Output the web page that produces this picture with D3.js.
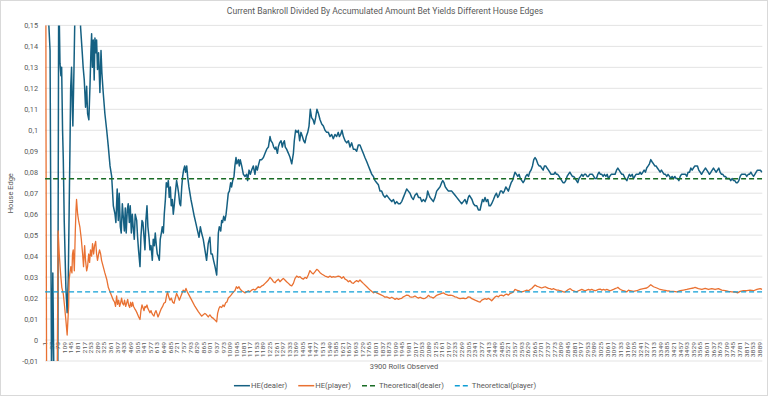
<!DOCTYPE html>
<html>
<head>
<meta charset="utf-8">
<title>House Edges</title>
<style>
  body { margin: 0; background: #fff; }
  svg { display: block; font-family: "Liberation Sans Narrow", "Roboto", sans-serif; }
</style>
</head>
<body>
<div id="chart"></div>
<script src="https://cdn.jsdelivr.net/npm/d3@7"></script>
<script>
// [roll, house edge]
const dealerHE = [[1,0.5],[16,0.16],[28,0.138],[36,-0.02],[43,0.032],[49,-0.02],[60,-0.04],[70,-0.02],[75,0.17],[82,0.132],[87,0.126],[91,0.130],[96,0.100],[100,0.086],[105,0.057],[114,0.025],[121,0.013],[127,0.029],[132,0.063],[136,0.090],[140,0.120],[145,0.130],[149,0.111],[152,0.102],[158,0.129],[165,0.165],[178,0.18],[190,0.17],[194,0.149],[203,0.137],[208,0.130],[214,0.124],[221,0.111],[227,0.121],[232,0.108],[239,0.105],[245,0.121],[250,0.137],[254,0.146],[258,0.130],[263,0.143],[268,0.124],[272,0.144],[277,0.137],[281,0.143],[286,0.129],[292,0.137],[299,0.118],[305,0.138],[310,0.127],[317,0.118],[326,0.108],[336,0.100],[345,0.092],[354,0.083],[363,0.078],[372,0.064],[381,0.060],[386,0.056],[393,0.072],[399,0.057],[404,0.070],[410,0.054],[415,0.051],[421,0.065],[426,0.059],[432,0.052],[437,0.063],[442,0.051],[448,0.062],[453,0.065],[459,0.056],[464,0.064],[470,0.051],[475,0.060],[480,0.054],[486,0.048],[491,0.060],[499,0.057],[504,0.049],[509,0.043],[517,0.035],[522,0.049],[528,0.057],[533,0.056],[539,0.049],[544,0.043],[549,0.057],[555,0.064],[560,0.054],[566,0.049],[571,0.043],[577,0.045],[584,0.038],[589,0.048],[595,0.045],[600,0.051],[606,0.045],[611,0.041],[616,0.040],[622,0.038],[627,0.048],[633,0.051],[638,0.054],[644,0.051],[649,0.060],[655,0.067],[660,0.075],[665,0.073],[671,0.076],[676,0.068],[682,0.073],[687,0.064],[693,0.067],[698,0.060],[703,0.064],[709,0.070],[716,0.076],[722,0.073],[727,0.070],[733,0.065],[738,0.064],[744,0.073],[749,0.078],[754,0.081],[760,0.083],[765,0.080],[771,0.083],[776,0.078],[783,0.073],[794,0.067],[801,0.064],[812,0.059],[820,0.056],[830,0.052],[838,0.049],[845,0.054],[852,0.051],[861,0.048],[870,0.043],[879,0.038],[888,0.046],[897,0.049],[903,0.041],[910,0.041],[917,0.038],[925,0.035],[934,0.031],[939,0.041],[943,0.051],[948,0.054],[956,0.052],[961,0.057],[966,0.056],[972,0.059],[979,0.057],[985,0.060],[990,0.064],[997,0.070],[1003,0.071],[1010,0.075],[1015,0.073],[1021,0.076],[1028,0.078],[1033,0.083],[1039,0.087],[1044,0.084],[1052,0.086],[1057,0.083],[1062,0.086],[1070,0.083],[1079,0.079],[1088,0.078],[1097,0.079],[1102,0.076],[1110,0.081],[1117,0.079],[1124,0.081],[1133,0.083],[1142,0.079],[1148,0.083],[1155,0.081],[1160,0.083],[1169,0.086],[1178,0.086],[1188,0.087],[1197,0.089],[1206,0.091],[1215,0.092],[1224,0.097],[1229,0.095],[1237,0.094],[1244,0.092],[1251,0.091],[1256,0.092],[1264,0.089],[1269,0.092],[1276,0.094],[1284,0.095],[1291,0.092],[1296,0.094],[1302,0.095],[1307,0.092],[1314,0.091],[1324,0.089],[1333,0.087],[1342,0.084],[1351,0.089],[1356,0.095],[1363,0.100],[1371,0.099],[1378,0.100],[1385,0.095],[1392,0.099],[1400,0.097],[1407,0.095],[1414,0.094],[1421,0.097],[1429,0.099],[1436,0.102],[1443,0.110],[1450,0.106],[1458,0.105],[1465,0.103],[1472,0.106],[1479,0.110],[1487,0.108],[1496,0.105],[1505,0.103],[1514,0.102],[1523,0.100],[1532,0.099],[1541,0.099],[1550,0.097],[1559,0.098],[1568,0.096],[1577,0.098],[1586,0.097],[1595,0.099],[1601,0.097],[1608,0.098],[1615,0.100],[1623,0.097],[1632,0.095],[1641,0.094],[1650,0.095],[1659,0.092],[1668,0.094],[1677,0.091],[1686,0.091],[1695,0.090],[1704,0.093],[1713,0.093],[1722,0.091],[1731,0.089],[1740,0.087],[1750,0.085],[1759,0.083],[1768,0.081],[1777,0.079],[1786,0.078],[1795,0.076],[1804,0.075],[1813,0.074],[1822,0.071],[1831,0.071],[1840,0.069],[1849,0.068],[1858,0.069],[1867,0.068],[1876,0.067],[1886,0.066],[1895,0.067],[1904,0.065],[1913,0.066],[1922,0.065],[1931,0.065],[1940,0.066],[1949,0.068],[1958,0.070],[1967,0.072],[1976,0.071],[1985,0.070],[1994,0.068],[2003,0.067],[2012,0.069],[2022,0.070],[2031,0.068],[2040,0.068],[2049,0.066],[2058,0.067],[2067,0.066],[2076,0.068],[2081,0.071],[2089,0.069],[2094,0.068],[2103,0.067],[2112,0.066],[2121,0.068],[2130,0.071],[2139,0.072],[2148,0.073],[2157,0.075],[2163,0.076],[2170,0.075],[2177,0.073],[2185,0.072],[2194,0.071],[2203,0.071],[2212,0.071],[2221,0.070],[2230,0.069],[2239,0.068],[2248,0.067],[2257,0.066],[2266,0.065],[2275,0.066],[2284,0.067],[2293,0.065],[2302,0.068],[2308,0.069],[2315,0.068],[2322,0.067],[2330,0.065],[2339,0.064],[2348,0.064],[2357,0.062],[2366,0.062],[2371,0.064],[2379,0.067],[2386,0.066],[2393,0.068],[2400,0.066],[2408,0.067],[2415,0.064],[2422,0.064],[2429,0.065],[2439,0.067],[2448,0.069],[2455,0.070],[2462,0.068],[2469,0.069],[2477,0.071],[2484,0.071],[2491,0.070],[2498,0.071],[2506,0.073],[2513,0.072],[2520,0.071],[2527,0.073],[2535,0.075],[2542,0.076],[2549,0.078],[2556,0.080],[2564,0.079],[2571,0.078],[2578,0.079],[2585,0.077],[2593,0.076],[2600,0.075],[2607,0.076],[2614,0.078],[2622,0.079],[2629,0.078],[2636,0.080],[2643,0.081],[2651,0.083],[2658,0.086],[2665,0.087],[2672,0.086],[2680,0.084],[2687,0.083],[2694,0.083],[2701,0.082],[2709,0.081],[2716,0.083],[2723,0.083],[2730,0.082],[2738,0.081],[2745,0.080],[2752,0.079],[2759,0.079],[2767,0.079],[2774,0.080],[2781,0.079],[2788,0.079],[2796,0.078],[2803,0.077],[2810,0.076],[2817,0.075],[2825,0.075],[2832,0.076],[2839,0.078],[2846,0.079],[2854,0.080],[2861,0.079],[2868,0.078],[2875,0.078],[2883,0.077],[2890,0.076],[2897,0.075],[2904,0.077],[2912,0.078],[2919,0.079],[2926,0.078],[2933,0.079],[2941,0.079],[2948,0.078],[2955,0.078],[2962,0.079],[2970,0.079],[2977,0.079],[2984,0.078],[2991,0.077],[2999,0.077],[3006,0.079],[3013,0.080],[3020,0.079],[3028,0.079],[3035,0.078],[3042,0.079],[3050,0.078],[3057,0.079],[3064,0.077],[3071,0.078],[3079,0.079],[3086,0.079],[3093,0.079],[3100,0.079],[3108,0.081],[3115,0.082],[3122,0.081],[3129,0.080],[3137,0.079],[3144,0.079],[3155,0.077],[3164,0.076],[3173,0.078],[3178,0.079],[3185,0.078],[3193,0.079],[3200,0.077],[3207,0.078],[3214,0.079],[3222,0.079],[3229,0.079],[3236,0.080],[3243,0.079],[3251,0.080],[3258,0.081],[3265,0.080],[3272,0.082],[3280,0.083],[3287,0.084],[3294,0.086],[3301,0.085],[3309,0.084],[3316,0.083],[3323,0.083],[3330,0.082],[3338,0.081],[3345,0.080],[3352,0.081],[3359,0.080],[3367,0.079],[3374,0.079],[3381,0.078],[3388,0.079],[3396,0.078],[3403,0.077],[3410,0.078],[3418,0.077],[3425,0.078],[3432,0.077],[3439,0.077],[3447,0.076],[3454,0.078],[3461,0.079],[3468,0.079],[3476,0.079],[3483,0.079],[3490,0.078],[3497,0.080],[3505,0.080],[3512,0.082],[3519,0.081],[3526,0.082],[3534,0.083],[3541,0.083],[3548,0.083],[3555,0.081],[3563,0.080],[3570,0.079],[3577,0.080],[3584,0.081],[3592,0.082],[3599,0.081],[3606,0.080],[3613,0.079],[3621,0.080],[3628,0.081],[3635,0.082],[3642,0.081],[3650,0.080],[3657,0.081],[3664,0.082],[3671,0.080],[3679,0.079],[3686,0.079],[3693,0.078],[3700,0.078],[3708,0.077],[3715,0.077],[3722,0.077],[3729,0.076],[3737,0.077],[3744,0.076],[3751,0.076],[3758,0.075],[3766,0.075],[3773,0.076],[3780,0.078],[3787,0.079],[3795,0.079],[3802,0.079],[3809,0.079],[3816,0.078],[3824,0.079],[3831,0.079],[3838,0.080],[3845,0.079],[3853,0.078],[3860,0.079],[3867,0.080],[3874,0.081],[3882,0.081],[3889,0.081],[3900,0.080]];

const playerHE = [[1,0.5],[6,0.1],[10,-0.05],[40,-0.06],[66,-0.03],[72,0.052],[78,0.041],[85,0.032],[92,0.025],[100,0.022],[107,0.016],[114,0.0095],[121,0.0024],[129,0.016],[132,0.029],[136,0.032],[141,0.035],[147,0.032],[150,0.041],[154,0.043],[160,0.033],[165,0.051],[169,0.062],[172,0.067],[178,0.060],[183,0.057],[190,0.054],[198,0.048],[205,0.041],[210,0.035],[216,0.045],[221,0.038],[227,0.033],[232,0.035],[238,0.041],[243,0.037],[248,0.043],[254,0.040],[259,0.046],[265,0.041],[270,0.045],[276,0.047],[281,0.041],[286,0.038],[292,0.041],[297,0.043],[303,0.041],[308,0.038],[317,0.035],[326,0.032],[336,0.029],[345,0.025],[354,0.023],[363,0.021],[372,0.019],[379,0.018],[384,0.016],[390,0.021],[395,0.017],[401,0.019],[406,0.016],[411,0.0175],[417,0.020],[422,0.0175],[428,0.0167],[433,0.019],[439,0.016],[444,0.0175],[450,0.0194],[455,0.0167],[461,0.0155],[466,0.018],[472,0.016],[477,0.018],[482,0.016],[488,0.015],[495,0.014],[502,0.0127],[510,0.011],[517,0.0098],[522,0.014],[528,0.0167],[533,0.0155],[539,0.014],[544,0.016],[549,0.0155],[555,0.0167],[560,0.015],[566,0.014],[571,0.013],[577,0.014],[582,0.0127],[587,0.012],[593,0.0114],[598,0.013],[604,0.014],[609,0.0127],[615,0.011],[620,0.012],[626,0.0135],[633,0.015],[640,0.016],[647,0.0175],[655,0.018],[662,0.0214],[667,0.023],[673,0.0206],[680,0.019],[687,0.020],[695,0.018],[702,0.0175],[709,0.020],[716,0.0222],[724,0.0206],[731,0.019],[738,0.0206],[745,0.0222],[752,0.0238],[760,0.023],[767,0.0246],[774,0.023],[780,0.022],[798,0.019],[816,0.016],[834,0.0135],[852,0.0114],[861,0.012],[870,0.0127],[879,0.012],[888,0.011],[897,0.012],[907,0.0108],[916,0.0103],[925,0.0095],[934,0.0087],[939,0.0127],[946,0.015],[952,0.016],[961,0.0155],[968,0.0167],[975,0.016],[983,0.0178],[990,0.0182],[997,0.020],[1004,0.0206],[1012,0.0214],[1019,0.0222],[1026,0.023],[1033,0.0235],[1041,0.0254],[1048,0.0246],[1055,0.0254],[1062,0.0242],[1070,0.0235],[1079,0.023],[1088,0.0225],[1097,0.023],[1106,0.0235],[1115,0.023],[1124,0.0238],[1133,0.0242],[1142,0.0238],[1151,0.0246],[1160,0.0254],[1169,0.025],[1179,0.0258],[1188,0.0262],[1197,0.027],[1206,0.0278],[1215,0.0286],[1224,0.0299],[1233,0.029],[1242,0.0278],[1251,0.0273],[1260,0.0283],[1269,0.029],[1278,0.0278],[1287,0.0286],[1296,0.0294],[1305,0.0286],[1314,0.0278],[1324,0.027],[1333,0.0262],[1342,0.0258],[1351,0.027],[1360,0.0294],[1369,0.0305],[1378,0.0299],[1387,0.0302],[1396,0.0294],[1405,0.029],[1414,0.0299],[1423,0.0294],[1432,0.031],[1441,0.0331],[1450,0.0321],[1459,0.0315],[1469,0.0326],[1478,0.0337],[1487,0.0331],[1496,0.0321],[1505,0.0315],[1514,0.031],[1523,0.0305],[1532,0.0302],[1541,0.0299],[1550,0.0305],[1559,0.0299],[1568,0.0302],[1577,0.030],[1586,0.0302],[1595,0.0305],[1605,0.0302],[1614,0.0294],[1623,0.0302],[1632,0.029],[1641,0.0286],[1650,0.0278],[1659,0.0283],[1668,0.0273],[1677,0.027],[1686,0.0278],[1695,0.0283],[1704,0.0278],[1713,0.0286],[1722,0.0278],[1731,0.027],[1750,0.0254],[1768,0.0238],[1786,0.0225],[1795,0.023],[1804,0.0225],[1822,0.0218],[1840,0.021],[1849,0.0204],[1858,0.0206],[1876,0.0199],[1886,0.0204],[1895,0.0199],[1904,0.0194],[1913,0.0199],[1922,0.0194],[1931,0.0197],[1940,0.0199],[1949,0.0206],[1958,0.021],[1967,0.0214],[1976,0.0213],[1985,0.0206],[1994,0.0204],[2003,0.0206],[2012,0.021],[2022,0.0204],[2031,0.020],[2040,0.0204],[2049,0.020],[2058,0.0197],[2067,0.0199],[2076,0.0204],[2085,0.0213],[2094,0.0206],[2103,0.0204],[2112,0.020],[2121,0.0206],[2130,0.0213],[2139,0.0216],[2148,0.0219],[2157,0.0222],[2167,0.0225],[2176,0.0219],[2185,0.0216],[2194,0.0213],[2203,0.0214],[2212,0.0213],[2221,0.021],[2230,0.0206],[2239,0.0204],[2248,0.020],[2257,0.0197],[2266,0.0199],[2275,0.020],[2284,0.0197],[2293,0.0199],[2302,0.0206],[2312,0.0204],[2321,0.0197],[2330,0.0194],[2339,0.019],[2348,0.0187],[2357,0.0183],[2366,0.0181],[2375,0.019],[2384,0.0194],[2393,0.0197],[2402,0.0194],[2411,0.0199],[2420,0.0194],[2429,0.0187],[2439,0.0197],[2448,0.0206],[2457,0.021],[2466,0.0206],[2475,0.0213],[2484,0.0214],[2493,0.021],[2502,0.0216],[2511,0.0219],[2520,0.0214],[2529,0.0222],[2538,0.0225],[2547,0.023],[2556,0.0241],[2565,0.0238],[2574,0.0235],[2584,0.0232],[2593,0.023],[2602,0.0232],[2611,0.0235],[2620,0.0238],[2629,0.0235],[2638,0.0241],[2647,0.0246],[2656,0.0254],[2665,0.0262],[2674,0.0257],[2683,0.0254],[2692,0.0251],[2701,0.0248],[2710,0.0251],[2720,0.0254],[2729,0.025],[2738,0.0246],[2747,0.0245],[2756,0.0241],[2765,0.0245],[2774,0.0241],[2783,0.0238],[2792,0.0238],[2801,0.0235],[2810,0.0233],[2819,0.023],[2828,0.0229],[2837,0.0235],[2846,0.0241],[2856,0.0245],[2865,0.0238],[2874,0.0235],[2883,0.0232],[2892,0.023],[2901,0.0235],[2910,0.0238],[2919,0.0241],[2928,0.0238],[2937,0.0235],[2946,0.0238],[2955,0.0241],[2964,0.0238],[2973,0.0241],[2982,0.0238],[2992,0.0235],[3001,0.0238],[3010,0.0241],[3019,0.0243],[3028,0.0238],[3037,0.0241],[3046,0.0238],[3055,0.0241],[3064,0.0238],[3073,0.0235],[3082,0.0238],[3091,0.0241],[3100,0.0245],[3109,0.0248],[3115,0.0251],[3122,0.0246],[3129,0.0241],[3137,0.0238],[3146,0.0235],[3164,0.023],[3173,0.0238],[3182,0.0235],[3200,0.0232],[3218,0.0235],[3236,0.0241],[3254,0.0245],[3272,0.0248],[3282,0.0254],[3294,0.0264],[3309,0.0254],[3327,0.0248],[3345,0.0241],[3363,0.0238],[3381,0.0235],[3399,0.0233],[3418,0.0232],[3436,0.023],[3454,0.0235],[3472,0.0238],[3490,0.0241],[3508,0.0245],[3526,0.0248],[3535,0.0251],[3553,0.0245],[3572,0.0241],[3590,0.0246],[3608,0.0241],[3626,0.0245],[3644,0.0241],[3662,0.0245],[3680,0.0238],[3699,0.0235],[3717,0.0232],[3735,0.023],[3753,0.0229],[3766,0.0225],[3780,0.0232],[3798,0.0235],[3816,0.0235],[3834,0.0238],[3853,0.0235],[3871,0.0241],[3889,0.0245],[3900,0.0241]];

const theoDealer = 0.0769;
const theoPlayer = 0.0230;
const totalRolls = 3900;
const xLabelRolls = d3.range(1, totalRolls + 1, 36);
const yTicks = [-0.01, 0, 0.01, 0.02, 0.03, 0.04, 0.05, 0.06, 0.07, 0.08, 0.09, 0.1, 0.11, 0.12, 0.13, 0.14, 0.15];
const seriesNames = ["HE(dealer)", "HE(player)", "Theoretical(dealer)", "Theoretical(player)"];

const width = 770, height = 398;
const margin = {top: 25.4, right: 7.7, bottom: 37, left: 45};
const colors = {dealer: "#156082", player: "#E97132", tDealer: "#196B24", tPlayer: "#0F9ED5"};
const txt = "#595959";

const svg = d3.select("#chart").append("svg")
  .attr("width", width).attr("height", height);

svg.append("rect")
  .attr("x", 0.5).attr("y", 0.5).attr("width", 767).attr("height", 395)
  .attr("fill", "#fff").attr("stroke", "#d9d9d9");

const x = d3.scaleLinear().domain([0.5, totalRolls + 0.5]).range([margin.left, width - margin.right]);
const y = d3.scaleLinear().domain([-0.01, 0.15]).range([height - margin.bottom, margin.top]);

// gridlines
svg.append("g")
  .selectAll("line")
  .data(yTicks)
  .join("line")
    .attr("x1", margin.left).attr("x2", width - margin.right)
    .attr("y1", d => y(d)).attr("y2", d => y(d))
    .attr("stroke", "#e3e3e3").attr("stroke-width", 1);

const fmt = d => String(+d.toFixed(2)).replace(".", ",");

svg.append("g")
  .selectAll("text")
  .data(yTicks)
  .join("text")
    .attr("x", 38).attr("y", d => y(d))
    .attr("dy", "0.35em")
    .attr("text-anchor", "end")
    .attr("fill", txt)
    .style("font-size", "7.3px")
    .text(fmt);

// category labels sit just under the zero line, stretched along the text
svg.append("g")
  .selectAll("text")
  .data(xLabelRolls)
  .join("text")
    .attr("transform", d => `translate(${x(d) + 1.8},${y(0) + 2}) rotate(-90) scale(1.3,1)`)
    .attr("text-anchor", "end")
    .attr("fill", txt)
    .style("font-size", "5.2px")
    .text(d => d);

svg.append("clipPath").attr("id", "plot")
  .append("rect")
  .attr("x", margin.left).attr("y", margin.top)
  .attr("width", width - margin.right - margin.left)
  .attr("height", height - margin.bottom - margin.top);

const line = d3.line().x(d => x(d[0])).y(d => y(d[1]));
const plot = svg.append("g").attr("clip-path", "url(#plot)");

plot.append("path").datum(dealerHE)
  .attr("d", line).attr("fill", "none")
  .attr("stroke", colors.dealer).attr("stroke-width", 1.5).attr("stroke-linejoin", "round");

plot.append("path").datum(playerHE)
  .attr("d", line).attr("fill", "none")
  .attr("stroke", colors.player).attr("stroke-width", 1.3).attr("stroke-linejoin", "round");

[[theoDealer, colors.tDealer], [theoPlayer, colors.tPlayer]].forEach(([v, c]) => {
  plot.append("path").datum([[1, v], [totalRolls, v]])
    .attr("d", line).attr("fill", "none")
    .attr("stroke", c).attr("stroke-width", 1.3).attr("stroke-dasharray", "5,3");
});

// titles
svg.append("text")
  .attr("x", 385).attr("y", 14)
  .attr("text-anchor", "middle").attr("fill", txt)
  .style("font-size", "8.6px")
  .text("Current Bankroll Divided By Accumulated Amount Bet Yields Different House Edges");

svg.append("text")
  .attr("x", 404).attr("y", 369)
  .attr("text-anchor", "middle").attr("fill", txt)
  .style("font-size", "7.5px")
  .text("3900 Rolls Observed");

svg.append("text")
  .attr("transform", `translate(13,${(y(-0.01) + y(0.15)) / 2}) rotate(-90)`)
  .attr("text-anchor", "middle").attr("fill", txt)
  .style("font-size", "7.5px")
  .text("House Edge");

// legend
const legendStyles = [
  {c: colors.dealer, dash: null},
  {c: colors.player, dash: null},
  {c: colors.tDealer, dash: "5,3"},
  {c: colors.tPlayer, dash: "5,3"}
];
const legend = svg.append("g");
let lx = 0;
seriesNames.forEach((name, i) => {
  const g = legend.append("g").attr("transform", `translate(${lx},0)`);
  g.append("line").attr("x1", 0).attr("x2", 16).attr("y1", 0).attr("y2", 0)
    .attr("stroke", legendStyles[i].c).attr("stroke-width", 1.5)
    .attr("stroke-dasharray", legendStyles[i].dash);
  const t = g.append("text").attr("x", 17).attr("dy", "0.35em")
    .attr("fill", txt).style("font-size", "7.7px").text(name);
  lx += 17 + t.node().getComputedTextLength() + 11;
});
legend.attr("transform", `translate(${385 - (lx - 11) / 2},385.7)`);
</script>
</body>
</html>
